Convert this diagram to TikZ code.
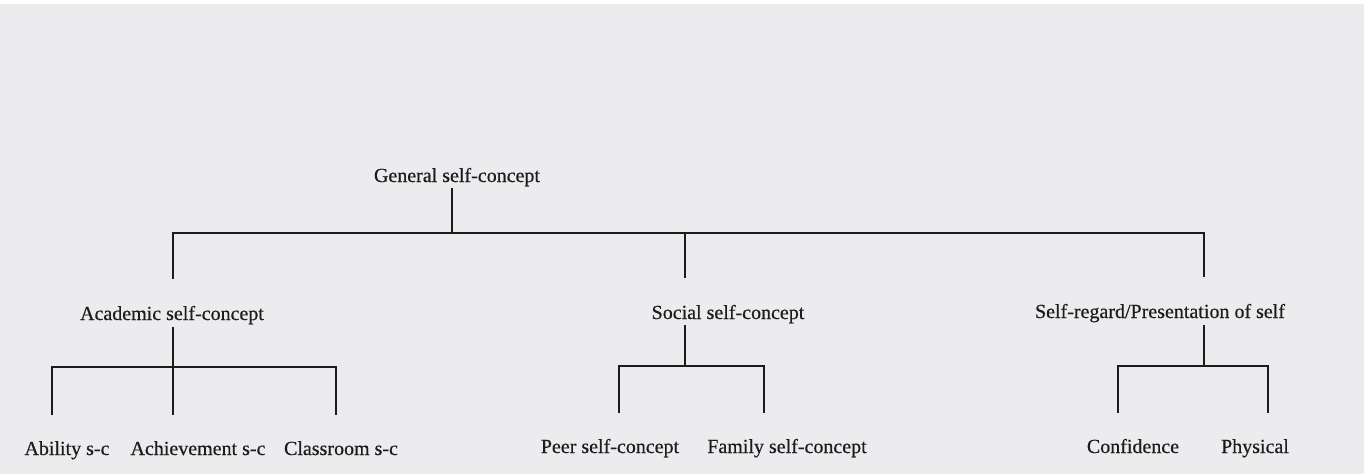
\documentclass[tikz,border=0pt]{standalone}
\usepackage{fontspec}
\setmainfont{Liberation Serif}
\newfontfamily\lblfont[FakeBold=0.5]{Liberation Serif}
\definecolor{paper}{RGB}{236,236,239}
\definecolor{ink}{RGB}{28,28,28}
\begin{document}
\begin{tikzpicture}[x=1pt,y=-1pt,
  lbl/.style={font=\lblfont\fontsize{20}{23}\selectfont, text=ink, inner sep=0pt, anchor=base},
  ln/.style={line width=2.2pt, draw=ink}]
\useasboundingbox (0,0) rectangle (1364,474);
\fill[paper] (0,4) rectangle (1364,474);
\fill[white] (0,0) rectangle (1364,4);
% labels
\node[lbl] (gen) at (457,182) {General self-concept};
\node[lbl] (aca) at (172,320) {Academic self-concept};
\node[lbl] (soc) at (728,319) {Social self-concept};
\node[lbl] (reg) at (1160,318) {Self-regard/Presentation of self};
\node[lbl] (abi) at (67,455) {Ability s-c};
\node[lbl] (ach) at (198,455) {Achievement s-c};
\node[lbl] (cla) at (341,455) {Classroom s-c};
\node[lbl] (pee) at (610,453) {Peer self-concept};
\node[lbl] (fam) at (787,453) {Family self-concept};
\node[lbl] (con) at (1133,453) {Confidence};
\node[lbl] (phy) at (1255,453) {Physical};
% junction coordinates
\coordinate (g1) at (452,188);
\coordinate (g2) at (452,233);
\coordinate (mL) at (173,233);
\coordinate (mR) at (1204,233);
\coordinate (mS) at (685,233);
\coordinate (a1) at (173,279);
\coordinate (s1) at (685,278);
\coordinate (r1) at (1204,277);
\coordinate (a2) at (173,327);
\coordinate (a3) at (173,415);
\coordinate (ab) at (52,415);
\coordinate (cl) at (336,415);
\coordinate (ah) at (52,367);
\coordinate (s2) at (685,325);
\coordinate (s3) at (685,366);
\coordinate (pe) at (619,413);
\coordinate (fa) at (764,413);
\coordinate (r2) at (1204,325);
\coordinate (r3) at (1204,366);
\coordinate (co) at (1118,413);
\coordinate (ph) at (1268,413);
% connectors
\draw[ln] (g1) -- (g2);
\draw[ln] (a1) |- (mR) -- (r1);
\draw[ln] (mS) -- (s1);
\draw[ln] (a2) -- (a3);
\draw[ln] (ab) |- (cl |- ah) -- (cl);
\draw[ln] (s2) -- (s3);
\draw[ln] (pe) |- (fa |- s3) -- (fa);
\draw[ln] (r2) -- (r3);
\draw[ln] (co) |- (ph |- r3) -- (ph);
\end{tikzpicture}
\end{document}
